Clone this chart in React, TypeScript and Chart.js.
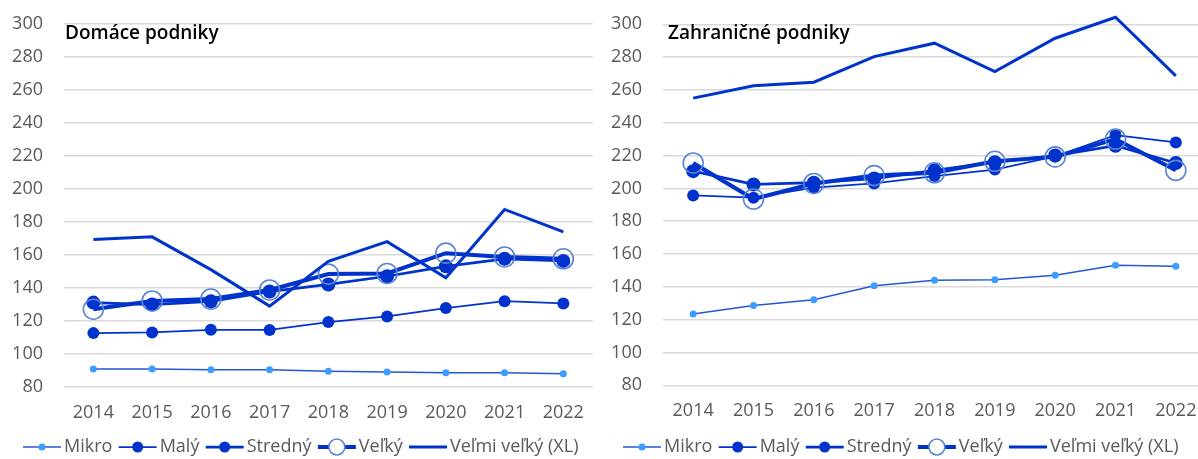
import React, { useEffect, useRef } from 'react';
import { Chart, registerables } from 'chart.js';

Chart.register(...registerables);

// ---------- DATA ----------
const years = ['2014', '2015', '2016', '2017', '2018', '2019', '2020', '2021', '2022'];
const seriesNames = ['Mikro', 'Malý', 'Stredný', 'Veľký', 'Veľmi veľký (XL)'];
const yMin = 80;
const yMax = 300;
const yStep = 20;

const titleDomestic = 'Domáce podniky';
const titleForeign = 'Zahraničné podniky';

// Domáce podniky
const domMikro = [90.7, 90.8, 90.3, 90.3, 89.3, 88.9, 88.5, 88.4, 87.9];
const domMaly = [112.5, 112.9, 114.5, 114.4, 119.2, 122.6, 127.7, 131.9, 130.5];
const domStredny = [131, 129.8, 131.8, 137.7, 142, 147, 153, 157.6, 156.3];
const domVelky = [127, 132, 133.2, 138.7, 148.3, 148.7, 161, 158.7, 157.6];
const domXL = [169.3, 170.9, 151, 128.9, 156, 168, 146.1, 187.5, 173.9];

// Zahraničné podniky
const zahMikro = [123.5, 128.6, 132.2, 140.7, 144, 144.4, 147, 153.1, 152.5];
const zahMaly = [195.7, 194.3, 200.5, 203, 207.5, 211.5, 219.5, 232.5, 228];
const zahStredny = [210.5, 202.4, 203.5, 206, 211, 216, 220, 226, 215.5];
const zahVelky = [215.5, 193.5, 203, 207.8, 209.5, 216.5, 219.2, 230, 211];
const zahXL = [255, 262.5, 264.7, 280.3, 288.5, 271.2, 291.5, 304.3, 268.6];

// ---------- STYLES ----------
const FONT = '"Open Sans", "Noto Sans", sans-serif';
const DARK = '#0033CC';
const RING = '#5A85D5';
const LIGHT = '#3D9CFF';
const MIKRO_LINE = '#2357D6';
const TEXT = '#595959';
const GRID = '#D9D9D9';
const FS = 18;

const seriesStyles = [
  { borderColor: MIKRO_LINE, borderWidth: 1.5, pointRadius: 3.5, pointBackgroundColor: LIGHT, pointBorderColor: LIGHT, pointBorderWidth: 0, legendFill: LIGHT, order: 5 },
  { borderColor: DARK, borderWidth: 1.75, pointRadius: 6, pointBackgroundColor: DARK, pointBorderColor: DARK, pointBorderWidth: 0, legendFill: DARK, order: 4 },
  { borderColor: DARK, borderWidth: 2.75, pointRadius: 7, pointBackgroundColor: DARK, pointBorderColor: DARK, pointBorderWidth: 0, legendFill: DARK, order: 3 },
  { borderColor: DARK, borderWidth: 4, pointRadius: 10, pointBackgroundColor: 'rgba(0,0,0,0)', pointBorderColor: RING, pointBorderWidth: 1.6, legendFill: '#FFFFFF', legendRadius: 8, order: 2 },
  { borderColor: DARK, borderWidth: 3, pointRadius: 0, pointBackgroundColor: DARK, pointBorderColor: DARK, pointBorderWidth: 0, legendFill: DARK, order: 1 },
];

const lineLegend = {
  id: 'lineLegend',
  afterDraw(chart: any, _args: any, opts: any) {
    const ctx = chart.ctx;
    ctx.save();
    // title
    ctx.font = `600 ${opts.titleSize}px ${FONT}`;
    ctx.fillStyle = '#000000';
    ctx.textBaseline = 'alphabetic';
    ctx.textAlign = 'left';
    ctx.fillText(opts.title, opts.titleX, opts.titleY);
    // legend
    ctx.font = `${opts.fontSize}px ${FONT}`;
    ctx.textBaseline = 'middle';
    let x = opts.x;
    const y = opts.y;
    const lw = opts.lineLen;
    chart.data.datasets.forEach((ds: any) => {
      ctx.strokeStyle = ds.borderColor;
      ctx.lineWidth = ds.borderWidth;
      ctx.beginPath();
      ctx.moveTo(x, y);
      ctx.lineTo(x + lw, y);
      ctx.stroke();
      if (ds.pointRadius > 0) {
        ctx.beginPath();
        ctx.arc(x + lw / 2, y, ds.legendRadius ?? Math.min(ds.pointRadius, 5.5), 0, Math.PI * 2);
        ctx.fillStyle = ds.legendFill;
        ctx.fill();
        if (ds.pointBorderWidth) {
          ctx.lineWidth = ds.pointBorderWidth;
          ctx.strokeStyle = ds.pointBorderColor;
          ctx.stroke();
        }
      }
      ctx.fillStyle = TEXT;
      ctx.fillText(ds.label, x + lw + opts.gap1, y);
      x += lw + opts.gap1 + ctx.measureText(ds.label).width + opts.gap2;
    });
    ctx.restore();
  },
};

function makeConfig(values: number[][], title: string, pad: any, legendX: number, titleX: number) {
  return {
    type: 'line' as const,
    data: {
      labels: years,
      datasets: values.map((v, i) => ({
        label: seriesNames[i],
        data: v,
        fill: false,
        tension: 0,
        clip: false,
        ...seriesStyles[i],
        pointHoverRadius: seriesStyles[i].pointRadius,
      })),
    },
    options: {
      animation: false,
      responsive: false,
      maintainAspectRatio: false,
      layout: { padding: pad, autoPadding: false },
      plugins: {
        legend: { display: false },
        tooltip: { enabled: false },
        lineLegend: {
          title,
          titleX,
          titleY: 39,
          titleSize: 19,
          x: legendX,
          y: 447,
          fontSize: FS,
          lineLen: 38,
          gap1: 3,
          gap2: 6.3,
        },
      },
      scales: {
        x: {
          offset: true,
          grid: { display: false, drawTicks: false },
          border: { display: false },
          ticks: { color: TEXT, font: { family: FONT, size: FS }, padding: 15, maxRotation: 0, autoSkip: false },
          afterFit: (s: any) => { s.height = 40; s.paddingLeft = 0; s.paddingRight = 0; },
        },
        y: {
          min: yMin,
          max: yMax,
          grid: { color: GRID, lineWidth: 1.5, drawTicks: false },
          border: { display: false },
          ticks: { stepSize: yStep, color: TEXT, font: { family: FONT, size: FS }, padding: 21 },
          afterFit: (s: any) => { s.width = 64; s.paddingTop = 0; s.paddingBottom = 0; },
        },
      },
    },
    plugins: [lineLegend],
  };
}

export default function App() {
  const leftRef = useRef<HTMLCanvasElement>(null);
  const rightRef = useRef<HTMLCanvasElement>(null);

  useEffect(() => {
    const left = new Chart(
      leftRef.current!,
      makeConfig([domMikro, domMaly, domStredny, domVelky, domXL], titleDomestic,
        { left: 0, right: 7.3, top: 24, bottom: 32.3 }, 23, 65) as any
    );
    const right = new Chart(
      rightRef.current!,
      makeConfig([zahMikro, zahMaly, zahStredny, zahVelky, zahXL], titleForeign,
        { left: 0, right: 5, top: 24.3, bottom: 33.7 }, 24, 69) as any
    );
    return () => {
      left.destroy();
      right.destroy();
    };
  }, []);

  return (
    <div style={{ position: 'fixed', left: 0, top: 0, width: 1198, height: 459, overflow: 'hidden', background: '#FFFFFF' }}>
      <canvas ref={leftRef} width={600} height={459} style={{ position: 'absolute', left: 0, top: 0 }} />
      <canvas ref={rightRef} width={612} height={459} style={{ position: 'absolute', left: 599, top: 0 }} />
    </div>
  );
}
